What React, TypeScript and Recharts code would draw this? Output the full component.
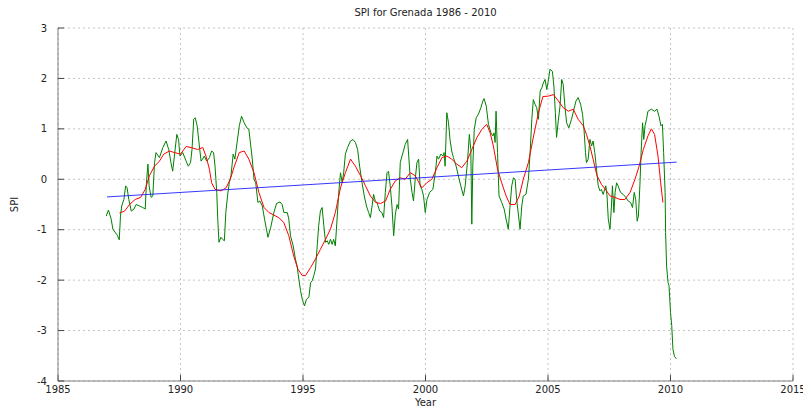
import React from 'react';
import { LineChart, Line, XAxis, YAxis, CartesianGrid } from 'recharts';

// SPI monthly series (year, value)
const spiYears = [
  1986.97, 1987.06, 1987.17, 1987.24, 1987.42, 1987.5, 1987.55, 1987.6, 1987.69, 1987.76, 1987.82, 1987.89, 1987.99,
  1988.1, 1988.19, 1988.33, 1988.46, 1988.56, 1988.61, 1988.67, 1988.72, 1988.8, 1988.87, 1988.94,
  1989.0, 1989.14, 1989.28, 1989.41, 1989.52, 1989.61, 1989.68, 1989.75, 1989.85, 1989.92, 1989.98,
  1990.09, 1990.23, 1990.32, 1990.41, 1990.47, 1990.54, 1990.6, 1990.68, 1990.77, 1990.84, 1990.9, 1990.97,
  1991.07, 1991.18, 1991.27, 1991.35, 1991.41, 1991.48, 1991.52, 1991.57, 1991.65, 1991.72, 1991.79, 1991.85, 1991.92, 1991.99,
  1992.06, 1992.15, 1992.22, 1992.29, 1992.4, 1992.49, 1992.6, 1992.71, 1992.79, 1992.93,
  1993.0, 1993.07, 1993.16, 1993.24, 1993.34, 1993.43, 1993.57, 1993.68, 1993.81, 1993.92,
  1994.06, 1994.15, 1994.22, 1994.36, 1994.42, 1994.49, 1994.6, 1994.69, 1994.76, 1994.83, 1994.9, 1994.97,
  1995.06, 1995.14, 1995.24, 1995.31, 1995.38, 1995.44, 1995.51, 1995.58, 1995.64, 1995.71, 1995.78, 1995.85, 1995.92, 1995.99,
  1996.05, 1996.12, 1996.19, 1996.25, 1996.32, 1996.39, 1996.46, 1996.53, 1996.6, 1996.66, 1996.73, 1996.82, 1996.94,
  1997.04, 1997.14, 1997.23, 1997.31, 1997.41, 1997.5, 1997.59, 1997.68, 1997.75, 1997.82, 1997.88, 1997.95,
  1998.02, 1998.13, 1998.22, 1998.29, 1998.36, 1998.43, 1998.49, 1998.56, 1998.63, 1998.7, 1998.77, 1998.84, 1998.9, 1998.97,
  1999.04, 1999.1, 1999.17, 1999.27, 1999.31, 1999.38, 1999.45, 1999.51, 1999.58, 1999.65, 1999.72, 1999.78, 1999.85, 1999.92, 1999.99,
  2000.06, 2000.17, 2000.3, 2000.4, 2000.47, 2000.53, 2000.63, 2000.71, 2000.76, 2000.8, 2000.87, 2000.94,
  2001.0, 2001.07, 2001.14, 2001.25, 2001.34, 2001.44, 2001.55, 2001.62, 2001.71, 2001.79, 2001.85, 2001.89, 2001.93, 2001.99,
  2002.07, 2002.16, 2002.26, 2002.34, 2002.39, 2002.48, 2002.57, 2002.67, 2002.75, 2002.8, 2002.84, 2002.88, 2002.94,
  2003.0, 2003.11, 2003.21, 2003.29, 2003.38, 2003.45, 2003.52, 2003.59, 2003.66, 2003.72, 2003.79, 2003.86, 2003.93, 2003.99,
  2004.1, 2004.2, 2004.27, 2004.34, 2004.4, 2004.47, 2004.54, 2004.61, 2004.68, 2004.75, 2004.81, 2004.88, 2004.95,
  2005.02, 2005.08, 2005.18, 2005.24, 2005.3, 2005.35, 2005.41, 2005.49, 2005.56, 2005.62, 2005.69, 2005.76, 2005.85, 2005.96,
  2006.06, 2006.14, 2006.23, 2006.33, 2006.41, 2006.47, 2006.53, 2006.57, 2006.64, 2006.71, 2006.78, 2006.84, 2006.91, 2006.98,
  2007.05, 2007.12, 2007.18, 2007.25, 2007.36, 2007.41, 2007.46, 2007.53, 2007.59, 2007.63, 2007.69, 2007.74, 2007.8, 2007.86, 2007.96,
  2008.07, 2008.18, 2008.27, 2008.37, 2008.45, 2008.52, 2008.58, 2008.64, 2008.69, 2008.75, 2008.8, 2008.86, 2008.91, 2008.96,
  2009.02, 2009.08, 2009.22, 2009.35, 2009.45, 2009.53, 2009.61, 2009.67, 2009.72, 2009.78, 2009.8, 2009.84, 2009.9, 2009.94,
  2010.0, 2010.05, 2010.1, 2010.16, 2010.24,
];
const spiValues = [
  -0.73, -0.61, -0.79, -0.99, -1.11, -1.2, -0.73, -0.53, -0.4, -0.13, -0.17, -0.4, -0.63,
  -0.59, -0.5, -0.53, -0.56, -0.59, -0.07, 0.3, -0.13, -0.36, -0.33, 0.33,
  0.53, 0.43, 0.63, 0.76, 0.59, 0.33, 0.16, 0.46, 0.89, 0.79, 0.46,
  0.53, 0.36, 0.26, 0.33, 0.59, 1.19, 1.22, 1.06, 0.66, 0.36, 0.4, 0.46,
  0.36, 0.43, 0.56, 0.53, 0.26, -0.26, -0.79, -1.25, -1.15, -1.19, -1.22, -0.66, -0.33, -0.07,
  0.07, 0.5, 0.4, 0.66, 1.06, 1.25, 1.12, 1.02, 0.99, 0.4,
  0.0, -0.07, -0.46, -0.43, -0.53, -0.79, -1.15, -0.96, -0.66, -0.48,
  -0.45, -0.5, -0.66, -0.66, -0.79, -1.12, -1.32, -1.58, -1.72, -1.98, -2.21, -2.38,
  -2.51, -2.38, -2.34, -2.05, -2.01, -1.91, -1.78, -1.32, -0.92, -0.63, -0.56, -0.92, -1.25, -1.22,
  -1.29, -1.19, -1.29, -1.19, -1.32, -0.79, -0.26, 0.13, -0.07, 0.13, 0.5, 0.63, 0.76,
  0.79, 0.73, 0.59, 0.26, -0.07, -0.33, -0.53, -0.66, -0.76, -0.53, -0.3, -0.43,
  -0.46, -0.63, -0.66, -0.76, -0.26, 0.13, 0.16, -0.13, -0.53, -1.12, -0.69, -0.5, -0.59, 0.33,
  0.46, 0.56, 0.69, 0.79, 0.5, 0.0, -0.26, -0.43, 0.0, 0.33, 0.4, -0.13, -0.2, -0.33, -0.66,
  -0.4, -0.26, -0.2, 0.13, 0.46, 0.4, 0.5, 0.46, 0.53, 0.26, 1.32, 1.12,
  0.79, 0.56, 0.43, 0.26, 0.07, -0.13, -0.33, -0.13, 0.33, 0.89, 0.59, -0.89, 0.26, 0.99,
  1.22, 1.29, 1.42, 1.55, 1.6, 1.45, 1.09, 0.92, 0.86, 0.92, 0.73, 1.35, 0.53,
  -0.33, -0.46, -0.59, -0.79, -0.99, -0.53, -0.13, 0.03, 0.0, -0.4, -0.69, -0.99, -0.53, -0.33,
  -0.3, 0.0, 0.53, 1.19, 1.58, 1.49, 1.42, 1.19, 1.75, 1.82, 1.91, 1.98, 1.78,
  1.98, 2.18, 2.14, 1.85, 1.32, 0.83, 1.12, 1.45, 1.98, 1.88, 1.45, 1.12, 1.02, 1.19,
  1.39, 1.55, 1.62, 1.49, 1.29, 0.99, 0.53, 0.33, 0.4, 0.79, 0.66, 0.76, 0.53, 0.2,
  -0.13, -0.23, -0.2, -0.3, -0.13, -0.33, -0.79, -0.99, -0.53, -0.13, -0.66, -0.26, -0.07, -0.13, -0.26,
  -0.3, -0.36, -0.43, -0.46, -0.56, -0.26, -0.4, -0.83, -0.73, -0.13, 0.53, 1.12, 0.79, 1.06,
  1.19, 1.35, 1.39, 1.35, 1.39, 1.25, 1.06, 1.09, 0.53, -0.26, -1.06, -1.72, -2.05, -2.11,
  -2.64, -2.9, -3.37, -3.51, -3.56,
];

// Smoothed SPI (red)
const smoothYears = [
  1987.51, 1987.72, 1987.92, 1988.15, 1988.37, 1988.56, 1988.73, 1988.94, 1989.14, 1989.32, 1989.55, 1989.75,
  1990.0, 1990.23, 1990.43, 1990.7, 1990.91, 1991.04, 1991.18, 1991.27, 1991.41, 1991.65, 1991.86,
  1992.03, 1992.2, 1992.4, 1992.6, 1992.79, 1993.0, 1993.2, 1993.41, 1993.61, 1993.81,
  1994.01, 1994.22, 1994.42, 1994.62, 1994.79, 1994.97, 1995.1, 1995.31, 1995.51, 1995.71, 1995.92,
  1996.12, 1996.32, 1996.53, 1996.73, 1996.94, 1997.14, 1997.35, 1997.55, 1997.75, 1997.96,
  1998.16, 1998.37, 1998.56, 1998.77, 1998.97, 1999.17, 1999.38, 1999.58, 1999.85,
  2000.05, 2000.26, 2000.47, 2000.67, 2000.87, 2001.07, 2001.28, 2001.48, 2001.69, 2001.89,
  2002.1, 2002.3, 2002.5, 2002.64, 2002.77, 2002.94, 2003.11, 2003.29, 2003.45, 2003.66, 2003.83, 2003.99,
  2004.2, 2004.4, 2004.61, 2004.79, 2005.02, 2005.22, 2005.43, 2005.62, 2005.83,
  2006.03, 2006.23, 2006.44, 2006.57, 2006.71, 2006.84, 2007.0, 2007.18, 2007.39, 2007.53, 2007.73, 2007.94,
  2008.14, 2008.35, 2008.55, 2008.72, 2008.89, 2009.08, 2009.22, 2009.35, 2009.49, 2009.6, 2009.69,
];
const smoothValues = [
  -0.67, -0.63, -0.5, -0.4, -0.36, -0.2, 0.07, 0.26, 0.36, 0.5, 0.56, 0.53,
  0.5, 0.65, 0.63, 0.59, 0.63, 0.46, 0.2, -0.07, -0.2, -0.23, -0.17,
  0.0, 0.26, 0.53, 0.56, 0.4, 0.13, -0.26, -0.56, -0.66, -0.71,
  -0.76, -0.86, -1.12, -1.52, -1.78, -1.91, -1.91, -1.75, -1.58, -1.39, -1.19,
  -0.99, -0.66, -0.17, 0.13, 0.4, 0.26, 0.07, -0.13, -0.33, -0.46,
  -0.48, -0.43, -0.2, -0.03, 0.03, 0.0, 0.13, 0.07, -0.17,
  -0.07, 0.0, 0.23, 0.43, 0.46, 0.4, 0.3, 0.23, 0.36, 0.59,
  0.83, 0.99, 1.09, 0.92, 0.66, 0.2, -0.07, -0.33, -0.5, -0.5, -0.33, 0.0,
  0.33, 0.83, 1.32, 1.64, 1.65, 1.68, 1.55, 1.42, 1.35,
  1.39, 1.19, 1.06, 0.89, 0.66, 0.4, 0.07, -0.1, -0.23, -0.33, -0.36, -0.4,
  -0.4, -0.26, 0.0, 0.26, 0.59, 0.86, 1.0, 0.89, 0.46, -0.07, -0.46,
];

// Linear trend (blue)
const trendYears = [1987.0, 2010.25];
const trendValues = [-0.35, 0.34];

const xTicks = [1985, 1990, 1995, 2000, 2005, 2010, 2015];
const yTicks = [-4, -3, -2, -1, 0, 1, 2, 3];
const chartTitle = 'SPI for Grenada 1986 - 2010';

const spiData = spiYears.map((x, i) => ({ x, y: spiValues[i] }));
const smoothData = smoothYears.map((x, i) => ({ x, y: smoothValues[i] }));
const trendData = trendYears.map((x, i) => ({ x, y: trendValues[i] }));

const FONT = '"DejaVu Sans", sans-serif';
const tickStyle = { fontSize: 10, fontFamily: FONT, fill: '#222' };
const frame = { stroke: '#808080', strokeWidth: 1 };
const tickLineStyle = { stroke: '#444' };

export default function App() {
  return (
    <div style={{ position: 'absolute', left: 0, top: 0, width: 803, height: 409, background: '#fff' }}>
      <div
        style={{
          position: 'absolute',
          left: 0,
          top: 7,
          width: 851,
          textAlign: 'center',
          fontSize: 10,
          lineHeight: '12px',
          fontFamily: FONT,
          color: '#222',
          whiteSpace: 'nowrap',
          pointerEvents: 'none',
        }}
      >
        {chartTitle}
      </div>
      <LineChart width={803} height={409} margin={{ top: 28, right: 10, bottom: 0, left: 7 }}>
        <CartesianGrid stroke="#c4c4c4" strokeDasharray="2 3" />
        <XAxis
          xAxisId={0}
          type="number"
          dataKey="x"
          domain={[1985, 2015]}
          ticks={xTicks}
          allowDataOverflow
          height={28}
          tickSize={-6}
          tickMargin={11}
          tick={tickStyle}
          axisLine={frame}
          tickLine={tickLineStyle}
          label={{ value: 'Year', position: 'insideBottom', offset: 3, style: { fontSize: 10, fontFamily: FONT, fill: '#222' } }}
        />
        <XAxis
          xAxisId="top"
          orientation="top"
          type="number"
          dataKey="x"
          domain={[1985, 2015]}
          ticks={xTicks}
          allowDataOverflow
          height={0}
          tickSize={-6}
          tick={false}
          axisLine={frame}
          tickLine={tickLineStyle}
        />
        <YAxis
          yAxisId={0}
          type="number"
          domain={[-4, 3]}
          ticks={yTicks}
          allowDataOverflow
          width={51}
          tickSize={-6}
          tickMargin={17}
          tick={tickStyle}
          axisLine={frame}
          tickLine={tickLineStyle}
          label={{ value: 'SPI', angle: -90, position: 'insideLeft', offset: 7, style: { fontSize: 10, fontFamily: FONT, fill: '#222', textAnchor: 'middle' } }}
        />
        <YAxis
          yAxisId="right"
          orientation="right"
          type="number"
          domain={[-4, 3]}
          ticks={yTicks}
          allowDataOverflow
          width={0}
          tickSize={-6}
          tick={false}
          axisLine={frame}
          tickLine={tickLineStyle}
        />
        <Line data={spiData} dataKey="y" type="linear" stroke="#008000" strokeWidth={1} dot={false} activeDot={false} isAnimationActive={false} />
        <Line data={smoothData} dataKey="y" type="linear" stroke="#ff0000" strokeWidth={1} dot={false} activeDot={false} isAnimationActive={false} />
        <Line data={trendData} dataKey="y" type="linear" stroke="#2020ff" strokeWidth={0.9} dot={false} activeDot={false} isAnimationActive={false} />
      </LineChart>
    </div>
  );
}
